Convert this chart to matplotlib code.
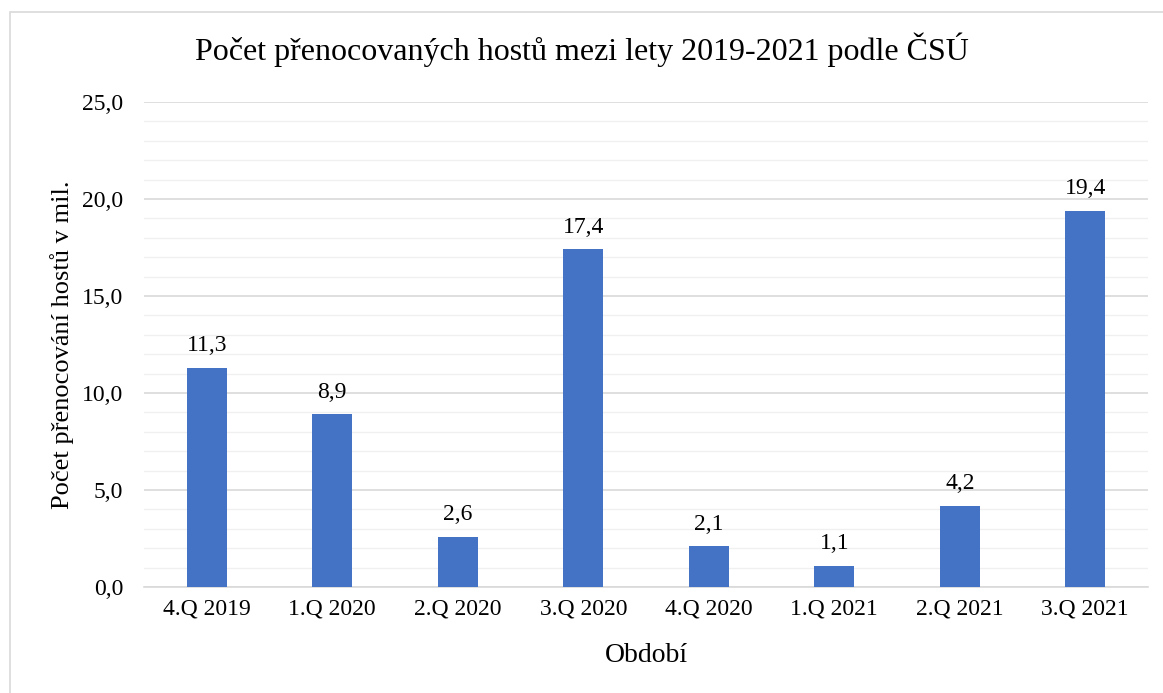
import numpy as np
import matplotlib.pyplot as plt
from matplotlib.patches import Rectangle

categories = ["4.Q 2019", "1.Q 2020", "2.Q 2020", "3.Q 2020",
              "4.Q 2020", "1.Q 2021", "2.Q 2021", "3.Q 2021"]
values = [11.3, 8.9, 2.6, 17.4, 2.1, 1.1, 4.2, 19.4]

plt.rcParams['font.family'] = ['Liberation Serif', 'DejaVu Serif']

fig = plt.figure(figsize=(11.63, 6.93), dpi=100)
ax = fig.add_axes([144/1163, 1 - 587/693, (1148-144)/1163, (587-102)/693])

# chart border
fig.patches.append(Rectangle((10/1163, -0.01), 1.02, 1 - 12/693 + 0.01,
                             transform=fig.transFigure, fill=False,
                             edgecolor="#d9d9d9", linewidth=1.2))

x = np.arange(len(categories))
ax.bar(x, values, width=0.32, color="#4472C4", zorder=3)
for i, v in enumerate(values):
    ax.text(i, v + 0.6, f"{v:.1f}".replace(".", ","), ha="center", va="bottom",
            fontsize=17)

ax.set_xlim(-0.5, len(categories) - 0.5)
ax.set_ylim(0, 25)
ax.set_yticks(np.arange(0, 26, 5))
ax.set_yticklabels([f"{t:.1f}".replace(".", ",") for t in np.arange(0, 26, 5)])
ax.set_yticks(np.arange(0, 26, 1), minor=True)
ax.grid(axis="y", which="major", color="#d9d9d9", linewidth=1.2, zorder=0)
ax.grid(axis="y", which="minor", color="#f0f0f0", linewidth=1.0, zorder=0)
ax.set_xticks(x)
ax.set_xticklabels(categories)
ax.tick_params(axis="both", which="both", length=0, labelsize=17)
ax.tick_params(axis="y", pad=15)
ax.tick_params(axis="x", pad=8)
for s in ["top", "right", "left"]:
    ax.spines[s].set_visible(False)
ax.spines["bottom"].set_color("#d9d9d9")
ax.spines["bottom"].set_linewidth(1.2)

ax.set_xlabel("Období", fontsize=20)
ax.xaxis.set_label_coords(0.5, -0.115)
ax.set_ylabel("Počet přenocování hostů v mil.", fontsize=19)
ax.yaxis.set_label_coords(-0.07, 0.5)
fig.text(0.5, 1 - 50/693, "Počet přenocovaných hostů mezi lety 2019-2021 podle ČSÚ",
         ha="center", va="center", fontsize=23)

fig.savefig("out.png", dpi=100)
